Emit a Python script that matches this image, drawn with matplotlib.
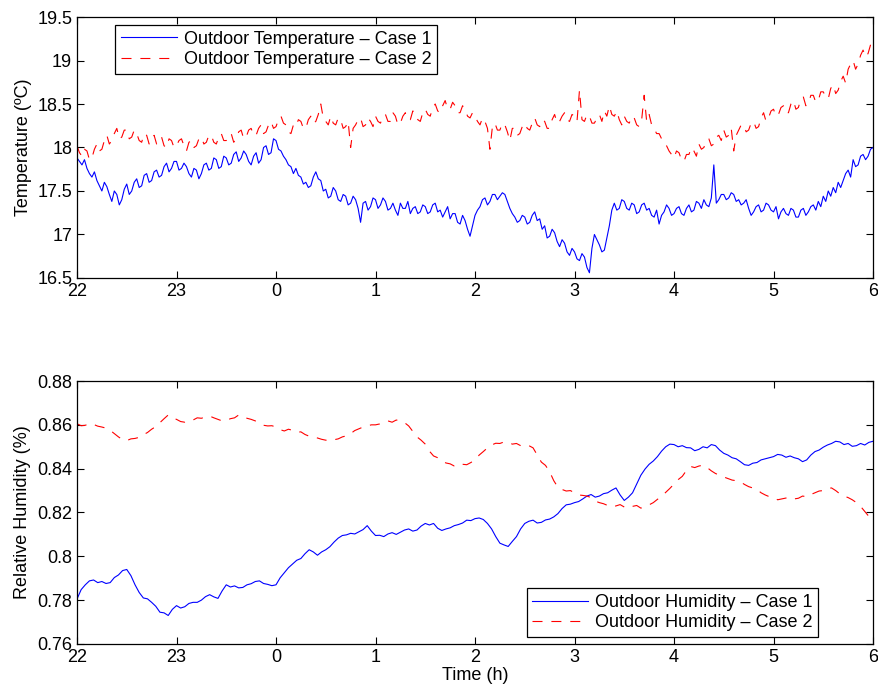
import numpy as np
import matplotlib
matplotlib.use("Agg")
import matplotlib.pyplot as plt
from matplotlib.ticker import FormatStrFormatter

plt.rcParams['font.family'] = ['Liberation Sans', 'DejaVu Sans']
plt.rcParams['font.size'] = 13

# ore dalle 22:00 (0) alle 6:00 (8)
ore_tick = [0, 1, 2, 3, 4, 5, 6, 7, 8]
etichette_ore = ["22", "23", "0", "1", "2", "3", "4", "5", "6"]

# temperatura esterna, un valore ogni 1.5 minuti
temp_caso1 = [
    17.88, 17.84, 17.80, 17.86, 17.76, 17.70, 17.66, 17.72, 17.62, 17.56, 17.50, 17.60, 17.55, 17.46, 17.38, 17.50, 17.46, 17.34, 17.40, 17.52,
    17.58, 17.46, 17.50, 17.60, 17.64, 17.54, 17.56, 17.68, 17.70, 17.60, 17.62, 17.72, 17.74, 17.66, 17.68, 17.78, 17.82, 17.72, 17.76, 17.84,
    17.84, 17.74, 17.76, 17.82, 17.78, 17.70, 17.66, 17.76, 17.74, 17.64, 17.70, 17.80, 17.82, 17.74, 17.76, 17.88, 17.86, 17.76, 17.78, 17.90,
    17.88, 17.80, 17.82, 17.92, 17.95, 17.84, 17.88, 17.96, 17.92, 17.84, 17.80, 17.90, 17.94, 17.82, 17.86, 18.00, 18.02, 17.92, 17.94, 18.10,
    18.08, 17.98, 17.96, 17.90, 17.86, 17.80, 17.78, 17.70, 17.76, 17.68, 17.66, 17.58, 17.60, 17.54, 17.56, 17.66, 17.72, 17.64, 17.62, 17.50,
    17.52, 17.42, 17.44, 17.54, 17.50, 17.40, 17.38, 17.46, 17.44, 17.34, 17.36, 17.44, 17.40, 17.30, 17.14, 17.36, 17.38, 17.28, 17.32, 17.42,
    17.40, 17.30, 17.34, 17.42, 17.38, 17.28, 17.30, 17.36, 17.28, 17.22, 17.36, 17.30, 17.30, 17.38, 17.24, 17.30, 17.32, 17.24, 17.26, 17.34,
    17.32, 17.24, 17.26, 17.34, 17.36, 17.26, 17.28, 17.20, 17.26, 17.32, 17.18, 17.24, 17.24, 17.14, 17.12, 17.22, 17.16, 17.06, 16.98, 17.10,
    17.22, 17.28, 17.32, 17.40, 17.42, 17.34, 17.38, 17.46, 17.46, 17.40, 17.44, 17.48, 17.46, 17.38, 17.30, 17.24, 17.20, 17.14, 17.16, 17.22,
    17.20, 17.12, 17.14, 17.22, 17.26, 17.16, 17.18, 17.06, 17.10, 16.96, 16.98, 17.06, 17.02, 16.92, 16.86, 16.94, 16.90, 16.80, 16.76, 16.84,
    16.80, 16.72, 16.70, 16.78, 16.74, 16.62, 16.56, 16.84, 17.00, 16.94, 16.88, 16.80, 16.82, 16.96, 17.10, 17.28, 17.36, 17.28, 17.30, 17.40,
    17.38, 17.30, 17.28, 17.36, 17.34, 17.24, 17.26, 17.34, 17.36, 17.28, 17.30, 17.22, 17.20, 17.28, 17.12, 17.22, 17.26, 17.34, 17.30, 17.22,
    17.24, 17.30, 17.32, 17.24, 17.22, 17.30, 17.34, 17.26, 17.28, 17.38, 17.36, 17.30, 17.40, 17.34, 17.32, 17.42, 17.80, 17.36, 17.40, 17.46,
    17.46, 17.40, 17.42, 17.48, 17.46, 17.38, 17.40, 17.34, 17.36, 17.40, 17.30, 17.22, 17.26, 17.32, 17.34, 17.26, 17.28, 17.36, 17.34, 17.28,
    17.26, 17.32, 17.18, 17.26, 17.30, 17.24, 17.22, 17.30, 17.28, 17.20, 17.20, 17.28, 17.30, 17.22, 17.26, 17.32, 17.34, 17.28, 17.38, 17.32,
    17.44, 17.38, 17.50, 17.44, 17.54, 17.48, 17.60, 17.54, 17.62, 17.70, 17.74, 17.66, 17.86, 17.78, 17.80, 17.90, 17.92, 17.86, 17.90, 17.98,
    18.00,
]
temp_caso2 = [
    18.02, 17.94, 17.90, 17.98, 17.96, 17.86, 17.88, 17.98, 18.04, 17.96, 17.98, 18.08, 18.14, 18.04, 18.08, 18.16, 18.22, 18.10, 18.12, 18.20,
    18.20, 18.10, 18.12, 18.20, 18.16, 18.08, 18.06, 18.16, 18.14, 18.04, 18.10, 18.14, 18.04, 18.10, 18.12, 18.02, 18.00, 18.10, 18.08, 18.00,
    18.02, 18.08, 18.10, 18.02, 17.96, 18.06, 18.08, 18.00, 18.02, 18.10, 18.12, 18.04, 18.06, 18.14, 18.14, 18.06, 18.04, 18.12, 18.16, 18.08,
    18.08, 18.14, 18.16, 18.06, 18.10, 18.18, 18.20, 18.10, 18.12, 18.20, 18.22, 18.14, 18.14, 18.22, 18.26, 18.16, 18.18, 18.26, 18.30, 18.22,
    18.24, 18.32, 18.36, 18.28, 18.26, 18.18, 18.16, 18.26, 18.24, 18.32, 18.30, 18.22, 18.22, 18.32, 18.36, 18.28, 18.30, 18.38, 18.50, 18.34,
    18.30, 18.26, 18.36, 18.28, 18.26, 18.34, 18.32, 18.22, 18.24, 18.30, 18.00, 18.22, 18.26, 18.32, 18.34, 18.24, 18.26, 18.34, 18.30, 18.24,
    18.36, 18.30, 18.28, 18.36, 18.38, 18.30, 18.30, 18.40, 18.36, 18.26, 18.28, 18.36, 18.40, 18.32, 18.32, 18.42, 18.40, 18.32, 18.30, 18.40,
    18.44, 18.38, 18.36, 18.46, 18.50, 18.42, 18.40, 18.48, 18.54, 18.44, 18.44, 18.52, 18.48, 18.40, 18.40, 18.48, 18.44, 18.36, 18.34, 18.40,
    18.36, 18.30, 18.26, 18.34, 18.30, 18.22, 17.98, 18.24, 18.28, 18.20, 18.20, 18.28, 18.26, 18.18, 18.08, 18.22, 18.22, 18.14, 18.16, 18.24,
    18.28, 18.22, 18.20, 18.28, 18.34, 18.26, 18.24, 18.32, 18.30, 18.22, 18.22, 18.32, 18.38, 18.28, 18.30, 18.36, 18.40, 18.32, 18.30, 18.38,
    18.36, 18.30, 18.66, 18.32, 18.30, 18.38, 18.36, 18.28, 18.28, 18.34, 18.38, 18.30, 18.42, 18.36, 18.48, 18.38, 18.36, 18.42, 18.32, 18.26,
    18.36, 18.30, 18.28, 18.36, 18.34, 18.26, 18.24, 18.32, 18.60, 18.30, 18.38, 18.26, 18.22, 18.16, 18.16, 18.10, 18.08, 18.02, 17.96, 17.92,
    17.88, 17.96, 17.94, 17.86, 17.84, 17.92, 17.92, 18.00, 17.96, 17.90, 18.04, 17.98, 18.00, 18.08, 18.10, 18.02, 18.04, 18.12, 18.14, 18.08,
    18.20, 18.12, 18.14, 18.22, 17.96, 18.14, 18.20, 18.26, 18.26, 18.18, 18.20, 18.28, 18.30, 18.22, 18.24, 18.34, 18.40, 18.30, 18.34, 18.42,
    18.44, 18.36, 18.38, 18.46, 18.48, 18.40, 18.40, 18.50, 18.54, 18.44, 18.46, 18.56, 18.58, 18.48, 18.50, 18.60, 18.60, 18.52, 18.54, 18.64,
    18.64, 18.58, 18.56, 18.68, 18.72, 18.62, 18.66, 18.76, 18.82, 18.74, 18.90, 18.96, 19.00, 18.90, 18.96, 19.06, 19.12, 19.04, 19.08, 19.18,
    19.24,
]

# umidita' relativa esterna, un valore ogni 2.5 minuti
umid_caso1 = [
    0.7805, 0.7848, 0.7870, 0.7888, 0.7892, 0.7880, 0.7885, 0.7876, 0.7880, 0.7903, 0.7915, 0.7935, 0.7940, 0.7912, 0.7870, 0.7835, 0.7810, 0.7806, 0.7790, 0.7772,
    0.7745, 0.7742, 0.7730, 0.7758, 0.7775, 0.7764, 0.7770, 0.7785, 0.7790, 0.7790, 0.7800, 0.7816, 0.7825, 0.7815, 0.7808, 0.7842, 0.7870, 0.7860, 0.7865, 0.7856,
    0.7858, 0.7870, 0.7875, 0.7885, 0.7888, 0.7876, 0.7872, 0.7866, 0.7870, 0.7902, 0.7925, 0.7948, 0.7965, 0.7982, 0.7990, 0.8012, 0.8030, 0.8020, 0.8005, 0.8020,
    0.8030, 0.8044, 0.8065, 0.8083, 0.8095, 0.8098, 0.8105, 0.8102, 0.8112, 0.8122, 0.8140, 0.8115, 0.8095, 0.8096, 0.8090, 0.8102, 0.8108, 0.8100, 0.8110, 0.8120,
    0.8125, 0.8115, 0.8120, 0.8138, 0.8150, 0.8143, 0.8150, 0.8128, 0.8118, 0.8125, 0.8130, 0.8140, 0.8145, 0.8152, 0.8165, 0.8163, 0.8172, 0.8175, 0.8168, 0.8150,
    0.8125, 0.8090, 0.8060, 0.8052, 0.8045, 0.8068, 0.8090, 0.8125, 0.8150, 0.8160, 0.8165, 0.8152, 0.8155, 0.8166, 0.8170, 0.8180, 0.8195, 0.8218, 0.8235, 0.8238,
    0.8245, 0.8250, 0.8262, 0.8275, 0.8282, 0.8270, 0.8275, 0.8286, 0.8290, 0.8302, 0.8312, 0.8280, 0.8255, 0.8270, 0.8290, 0.8330, 0.8370, 0.8398, 0.8420, 0.8435,
    0.8455, 0.8480, 0.8500, 0.8512, 0.8510, 0.8500, 0.8505, 0.8496, 0.8495, 0.8482, 0.8488, 0.8500, 0.8495, 0.8510, 0.8505, 0.8485, 0.8470, 0.8462, 0.8450, 0.8445,
    0.8432, 0.8418, 0.8415, 0.8425, 0.8428, 0.8440, 0.8445, 0.8450, 0.8455, 0.8465, 0.8462, 0.8452, 0.8458, 0.8450, 0.8445, 0.8432, 0.8440, 0.8462, 0.8478, 0.8485,
    0.8498, 0.8508, 0.8515, 0.8525, 0.8522, 0.8510, 0.8515, 0.8502, 0.8505, 0.8515, 0.8508, 0.8520, 0.8525,
]
umid_caso2 = [
    0.8605, 0.8596, 0.8598, 0.8606, 0.8602, 0.8594, 0.8590, 0.8585, 0.8575, 0.8560, 0.8545, 0.8532, 0.8528, 0.8536, 0.8538, 0.8543, 0.8555, 0.8565, 0.8580, 0.8592,
    0.8610, 0.8628, 0.8645, 0.8632, 0.8625, 0.8615, 0.8612, 0.8620, 0.8622, 0.8632, 0.8630, 0.8636, 0.8640, 0.8632, 0.8625, 0.8618, 0.8620, 0.8628, 0.8632, 0.8645,
    0.8640, 0.8630, 0.8625, 0.8618, 0.8610, 0.8598, 0.8595, 0.8596, 0.8590, 0.8578, 0.8572, 0.8580, 0.8575, 0.8566, 0.8568, 0.8556, 0.8548, 0.8545, 0.8540, 0.8534,
    0.8530, 0.8528, 0.8532, 0.8536, 0.8545, 0.8550, 0.8560, 0.8574, 0.8582, 0.8590, 0.8595, 0.8600, 0.8600, 0.8604, 0.8610, 0.8618, 0.8612, 0.8622, 0.8618, 0.8610,
    0.8595, 0.8570, 0.8545, 0.8530, 0.8512, 0.8480, 0.8458, 0.8450, 0.8435, 0.8426, 0.8422, 0.8412, 0.8410, 0.8420, 0.8418, 0.8428, 0.8440, 0.8462, 0.8478, 0.8495,
    0.8508, 0.8516, 0.8515, 0.8522, 0.8520, 0.8512, 0.8515, 0.8505, 0.8510, 0.8505, 0.8495, 0.8462, 0.8430, 0.8415, 0.8386, 0.8345, 0.8315, 0.8305, 0.8298, 0.8300,
    0.8290, 0.8280, 0.8278, 0.8275, 0.8268, 0.8252, 0.8245, 0.8240, 0.8232, 0.8225, 0.8230, 0.8236, 0.8225, 0.8220, 0.8228, 0.8232, 0.8220, 0.8226, 0.8235, 0.8245,
    0.8260, 0.8274, 0.8292, 0.8310, 0.8330, 0.8350, 0.8365, 0.8392, 0.8410, 0.8405, 0.8412, 0.8416, 0.8405, 0.8390, 0.8378, 0.8370, 0.8362, 0.8355, 0.8348, 0.8345,
    0.8340, 0.8328, 0.8318, 0.8312, 0.8305, 0.8290, 0.8280, 0.8272, 0.8268, 0.8258, 0.8262, 0.8266, 0.8258, 0.8262, 0.8265, 0.8275, 0.8272, 0.8282, 0.8290, 0.8298,
    0.8300, 0.8310, 0.8312, 0.8300, 0.8285, 0.8275, 0.8268, 0.8258, 0.8245, 0.8228, 0.8205, 0.8182, 0.8158,
]

t_temp = np.arange(len(temp_caso1)) * 1.5 / 60
t_umid = np.arange(len(umid_caso1)) * 2.5 / 60

fig = plt.figure(figsize=(8.79, 6.92), dpi=100)
ax1 = fig.add_axes([0.0876, 0.5983, 0.9056, 0.3771])
ax2 = fig.add_axes([0.0876, 0.0694, 0.9056, 0.3800])

tratteggio = (0, (9, 8))
stile_legenda = dict(handlelength=3.1, handletextpad=0.4, fancybox=False,
                     edgecolor="black", framealpha=1, borderpad=0.3,
                     labelspacing=0.2, borderaxespad=0)

ax1.plot(t_temp, temp_caso1, color="blue", lw=0.8, label="Outdoor Temperature \u2013 Case 1")
ax1.plot(t_temp, temp_caso2, color="red", lw=0.8, linestyle=tratteggio, label="Outdoor Temperature \u2013 Case 2")
ax1.set_ylim(16.5, 19.5)
ax1.set_yticks([16.5, 17, 17.5, 18, 18.5, 19, 19.5])
ax1.set_ylabel("Temperature (\u00baC)")
leg1 = ax1.legend(loc="upper left", bbox_to_anchor=(0.048, 0.969), **stile_legenda)

ax2.plot(t_umid, umid_caso1, color="blue", lw=0.8, label="Outdoor Humidity \u2013 Case 1")
ax2.plot(t_umid, umid_caso2, color="red", lw=0.8, linestyle=tratteggio, label="Outdoor Humidity \u2013 Case 2")
ax2.set_ylim(0.76, 0.88)
ax2.set_yticks([0.76, 0.78, 0.80, 0.82, 0.84, 0.86, 0.88])
ax2.set_ylabel("Relative Humidity (%)")
ax2.set_xlabel("Time (h)", labelpad=1)
leg2 = ax2.legend(loc="lower right", bbox_to_anchor=(0.931, 0.027), **stile_legenda)

for leg in (leg1, leg2):
    leg.get_frame().set_linewidth(0.9)

for ax in (ax1, ax2):
    ax.set_xlim(0, 8)
    ax.set_xticks(ore_tick)
    ax.set_xticklabels(etichette_ore)
    ax.yaxis.set_major_formatter(FormatStrFormatter("%g"))
    ax.tick_params(direction="in", top=True, right=True, length=5, width=0.8)
    for s in ax.spines.values():
        s.set_linewidth(0.9)

fig.savefig("out.png", dpi=100)
